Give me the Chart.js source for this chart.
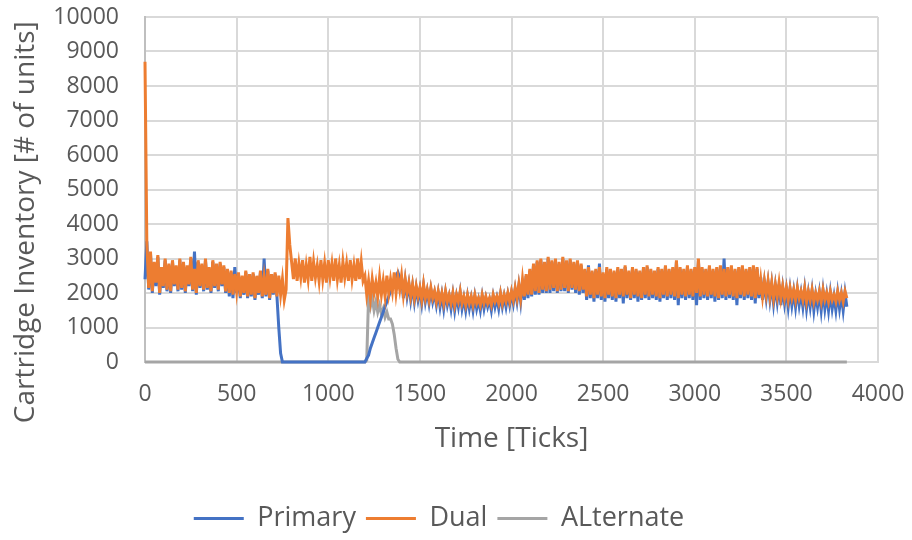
<!DOCTYPE html>
<html>
<head>
<meta charset="utf-8">
<script src="https://cdn.jsdelivr.net/npm/chart.js@4.4.1/dist/chart.umd.min.js"></script>
<style>
  body { margin: 0; background: #fff; }
  #box { width: 912px; height: 540px; }
</style>
</head>
<body>
<div id="box"><canvas id="myChart"></canvas></div>
<script>
// time in ticks, one reading every 10 ticks (0 .. 3830)
var ticks = [];
for (var t = 0; t <= 3830; t += 10) ticks.push(t);

var primary = [
  2400, 3500, 2100, 3150, 2000, 2850, 2200, 3050, 1950, 2700, 2150, 2950, 2050, 2800, 2000, 2900, 2200, 2750, 2050, 2950,
  2100, 2850, 2000, 2750, 2200, 3000, 2050, 3200, 1950, 2900, 2150, 2800, 2050, 2950, 2100, 2700, 2000, 2900, 2150, 2800,
  2050, 2850, 2200, 2750, 2000, 2650, 1900, 2600, 1850, 2750, 2000, 2550, 1850, 2450, 1950, 2600, 1850, 2500, 1900, 2550,
  1800, 2450, 1950, 2600, 1850, 3000, 1900, 2650, 1800, 2500, 1950, 2550, 1900, 1000, 250, 0, 0, 0, 0, 0,
  0, 0, 0, 0, 0, 0, 0, 0, 0, 0, 0, 0, 0, 0, 0, 0, 0, 0, 0, 0,
  0, 0, 0, 0, 0, 0, 0, 0, 0, 0, 0, 0, 0, 0, 0, 0, 0, 0, 0, 0,
  0, 100, 200, 400, 550, 700, 850, 1000, 1150, 1300, 1450, 1600, 1750, 1900, 2050, 2200, 2350, 2500, 2600, 2450,
  2450, 1850, 2350, 1900, 2250, 1800, 2200, 1750, 2150, 1800, 2100, 1700, 2200, 1750, 2050, 1700, 2100, 1750, 2000, 1650,
  2000, 1600, 1950, 1550, 2000, 1650, 1900, 1550, 1950, 1500, 1900, 1600, 2000, 1550, 1850, 1500, 1900, 1550, 1850, 1500,
  1900, 1550, 1800, 1500, 1900, 1550, 1850, 1600, 1800, 1500, 1900, 1600, 1850, 1550, 1950, 1600, 1900, 1600, 1950, 1650,
  2000, 1700, 2100, 1750, 2200, 1750, 2350, 1800, 2500, 1850, 2650, 1900, 2800, 1950, 2900, 1950, 2950, 2000, 2850, 2000,
  3000, 2000, 2900, 2050, 2950, 2000, 2850, 2050, 3000, 2050, 2900, 2000, 2950, 2100, 2850, 2000, 2900, 1950, 2800, 2000,
  2650, 1800, 2800, 1850, 2600, 1750, 2650, 1850, 2850, 1800, 2550, 1750, 2700, 1850, 2650, 1800, 2600, 1750, 2700, 1850,
  2650, 1700, 2750, 1850, 2600, 1800, 2700, 1850, 2650, 1750, 2600, 1800, 2700, 1850, 2750, 1800, 2650, 1850, 2600, 1800,
  2700, 1750, 2650, 1850, 2750, 1800, 2650, 1850, 2700, 1800, 2900, 1650, 2700, 1850, 2650, 1800, 2750, 1850, 2650, 1800,
  2700, 1650, 2950, 1800, 2700, 1850, 2650, 1800, 2750, 1850, 2650, 1750, 2700, 1800, 2750, 1850, 3000, 1800, 2700, 1850,
  2750, 1800, 2650, 1650, 2700, 1850, 2750, 1800, 2650, 1850, 2700, 1800, 2750, 1700, 2700, 1850, 2450, 1800, 2300, 1850,
  2300, 1800, 2250, 1700, 2200, 1750, 2250, 1650, 2150, 1700, 2100, 1600, 2100, 1650, 2050, 1600, 2100, 1650, 2000, 1600,
  2100, 1550, 2000, 1600, 2050, 1500, 1950, 1600, 2000, 1500, 2050, 1550, 1950, 1500, 2000, 1550, 1900, 1500, 2000, 1550,
  1950, 1500, 2000, 1600
];

var dual = [
  8700, 3450, 2150, 3200, 2050, 2900, 2300, 3100, 2000, 2750, 2200, 3000, 2100, 2850, 2050, 2950, 2250, 2800, 2100, 3000,
  2150, 2900, 2050, 2800, 2250, 3050, 2100, 2700, 2000, 2950, 2200, 2850, 2100, 3000, 2150, 2750, 2050, 2950, 2200, 2850,
  2100, 2900, 2250, 2800, 2050, 2700, 2000, 2650, 1950, 2550, 2050, 2600, 1900, 2500, 2000, 2650, 1900, 2550, 1950, 2600,
  1850, 2500, 2000, 2650, 1900, 2450, 1950, 2700, 1850, 2550, 2000, 2600, 1900, 2500, 1950, 2400, 1800, 2100, 4170, 3400,
  2900, 2400, 3000, 2350, 2850, 2450, 2950, 2300, 2800, 2400, 3050, 2350, 2900, 2450, 2800, 2350, 2950, 2400, 2850, 2300,
  2950, 2450, 2850, 2350, 3000, 2400, 2800, 2300, 2900, 2450, 2850, 2350, 2950, 2400, 2800, 2350, 3000, 2400, 2900, 2350,
  2500, 1950, 2350, 1850, 2400, 2000, 2300, 1900, 2450, 1950, 2350, 1900, 2500, 2000, 2400, 2050, 2600, 2000, 2450, 2100,
  2500, 1950, 2400, 2000, 2300, 1900, 2250, 1850, 2200, 1900, 2150, 1800, 2250, 1850, 2100, 1800, 2150, 1850, 2050, 1750,
  2050, 1750, 2000, 1700, 2050, 1750, 1950, 1700, 2000, 1650, 1950, 1750, 2050, 1700, 1900, 1650, 1950, 1700, 1900, 1650,
  1950, 1700, 1850, 1650, 1950, 1700, 1900, 1700, 1850, 1650, 1950, 1750, 1900, 1700, 2000, 1700, 1950, 1750, 2000, 1750,
  2050, 1800, 2150, 1850, 2250, 1850, 2400, 1900, 2550, 1950, 2700, 1950, 2850, 2050, 2950, 2000, 3000, 2100, 2900, 2050,
  3050, 2100, 2950, 2150, 3000, 2050, 2900, 2100, 3050, 2150, 2950, 2050, 3000, 2150, 2900, 2100, 2950, 2050, 2850, 2100,
  2700, 1900, 2750, 1950, 2650, 1850, 2700, 1950, 2750, 1900, 2600, 1850, 2750, 1950, 2700, 1900, 2650, 1850, 2750, 1950,
  2700, 1900, 2800, 1950, 2650, 1850, 2750, 1950, 2700, 1900, 2650, 1850, 2750, 1950, 2800, 1900, 2700, 1950, 2650, 1900,
  2750, 1850, 2700, 1950, 2800, 1900, 2700, 1950, 2750, 1900, 2950, 1850, 2750, 1950, 2700, 1900, 2800, 1950, 2700, 1900,
  2750, 2000, 3000, 1900, 2750, 1950, 2700, 1900, 2800, 1950, 2700, 1900, 2750, 1850, 2800, 1950, 2700, 1900, 2750, 1950,
  2800, 1900, 2700, 1850, 2750, 1950, 2800, 1900, 2700, 1950, 2750, 1900, 2800, 1850, 2750, 1950, 2400, 1900, 2350, 1950,
  2350, 1900, 2300, 1850, 2250, 1900, 2300, 1850, 2200, 1850, 2150, 1800, 2150, 1850, 2100, 1800, 2150, 1850, 2050, 1800,
  2150, 1750, 2050, 1800, 2100, 1750, 2000, 1800, 2050, 1750, 2100, 1800, 2000, 1750, 2050, 1800, 1950, 1750, 2050, 1800,
  2000, 1750, 2050, 1850
];

var alternate = [
  0, 0, 0, 0, 0, 0, 0, 0, 0, 0, 0, 0, 0, 0, 0, 0, 0, 0, 0, 0,
  0, 0, 0, 0, 0, 0, 0, 0, 0, 0, 0, 0, 0, 0, 0, 0, 0, 0, 0, 0,
  0, 0, 0, 0, 0, 0, 0, 0, 0, 0, 0, 0, 0, 0, 0, 0, 0, 0, 0, 0,
  0, 0, 0, 0, 0, 0, 0, 0, 0, 0, 0, 0, 0, 0, 0, 0, 0, 0, 0, 0,
  0, 0, 0, 0, 0, 0, 0, 0, 0, 0, 0, 0, 0, 0, 0, 0, 0, 0, 0, 0,
  0, 0, 0, 0, 0, 0, 0, 0, 0, 0, 0, 0, 0, 0, 0, 0, 0, 0, 0, 0,
  0, 50, 1900, 1600, 1850, 1500, 1750, 1450, 1650, 1400, 1550, 1300, 1450, 1250, 1250, 1100, 800, 400, 80, 0,
  0, 0, 0, 0, 0, 0, 0, 0, 0, 0, 0, 0, 0, 0, 0, 0, 0, 0, 0, 0,
  0, 0, 0, 0, 0, 0, 0, 0, 0, 0, 0, 0, 0, 0, 0, 0, 0, 0, 0, 0,
  0, 0, 0, 0, 0, 0, 0, 0, 0, 0, 0, 0, 0, 0, 0, 0, 0, 0, 0, 0,
  0, 0, 0, 0, 0, 0, 0, 0, 0, 0, 0, 0, 0, 0, 0, 0, 0, 0, 0, 0,
  0, 0, 0, 0, 0, 0, 0, 0, 0, 0, 0, 0, 0, 0, 0, 0, 0, 0, 0, 0,
  0, 0, 0, 0, 0, 0, 0, 0, 0, 0, 0, 0, 0, 0, 0, 0, 0, 0, 0, 0,
  0, 0, 0, 0, 0, 0, 0, 0, 0, 0, 0, 0, 0, 0, 0, 0, 0, 0, 0, 0,
  0, 0, 0, 0, 0, 0, 0, 0, 0, 0, 0, 0, 0, 0, 0, 0, 0, 0, 0, 0,
  0, 0, 0, 0, 0, 0, 0, 0, 0, 0, 0, 0, 0, 0, 0, 0, 0, 0, 0, 0,
  0, 0, 0, 0, 0, 0, 0, 0, 0, 0, 0, 0, 0, 0, 0, 0, 0, 0, 0, 0,
  0, 0, 0, 0, 0, 0, 0, 0, 0, 0, 0, 0, 0, 0, 0, 0, 0, 0, 0, 0,
  0, 0, 0, 0, 0, 0, 0, 0, 0, 0, 0, 0, 0, 0, 0, 0, 0, 0, 0, 0,
  0, 0, 0, 0
];

function pts(vals) {
    return ticks.map(function(t, i) { return { x: t, y: vals[i] }; });
}

var txt = "#595959";
var grid = "#d9d9d9";
Chart.defaults.font.family = "'Open Sans', sans-serif";
Chart.defaults.color = txt;

function line(label, vals, col, ord) {
    return {
        label: label, data: pts(vals), order: ord,
        borderColor: col, backgroundColor: col,
        borderWidth: 3, pointRadius: 0, tension: 0, clip: false
    };
}

const ctx = document.getElementById('myChart').getContext('2d');
var myChart = new Chart(ctx, {
    type: 'line',
    data: {
        datasets: [
            line('Primary', primary, '#4472C4', 2),
            line('Dual', dual, '#ED7D31', 1),
            line('ALternate', alternate, '#A5A5A5', 3)
        ]
    },
    options: {
        responsive: true,
        maintainAspectRatio: false,
        animation: false,
        layout: { padding: { left: 0, right: 34, top: 0, bottom: -2 } },
        plugins: {
            tooltip: { enabled: false },
            legend: {
                position: 'bottom',
                labels: {
                    usePointStyle: true,
                    pointStyle: 'line',
                    pointStyleWidth: 50,
                    padding: 10,
                    color: txt,
                    font: { size: 27 },
                    sort: function(a, b) { return a.datasetIndex - b.datasetIndex; }
                }
            }
        },
        scales: {
            x: {
                type: 'linear',
                min: 0, max: 4000,
                border: { color: grid, width: 2 },
                grid: { color: grid, lineWidth: 2, drawTicks: false },
                ticks: { stepSize: 500, autoSkip: false, maxRotation: 0, padding: 19, font: { size: 23 }, color: txt,
                         callback: function(v) { return String(v); } },
                title: { display: true, text: 'Time [Ticks]', font: { size: 28 }, color: txt, padding: { top: 0, bottom: 39 } },
                afterFit: function(s) { s.height = 133; s.paddingRight = 34; }
            },
            y: {
                min: 0, max: 10000,
                border: { color: '#bfbfbf', width: 2 },
                grid: { color: grid, lineWidth: 2, drawTicks: false },
                ticks: { stepSize: 1000, autoSkip: false, padding: 26, font: { size: 23 }, color: txt,
                         callback: function(v) { return String(v); } },
                // trailing spaces push the title down to where the original sits
                title: { display: true, text: 'Cartridge Inventory [# of units]\u00a0\u00a0\u00a0\u00a0\u00a0\u00a0\u00a0\u00a0\u00a0',
                         font: { size: 28 }, color: txt, padding: { top: 9, bottom: 0 } },
                afterFit: function(s) { s.width = 145; s.paddingTop = 17; }
            }
        }
    }
});
</script>
</body>
</html>
